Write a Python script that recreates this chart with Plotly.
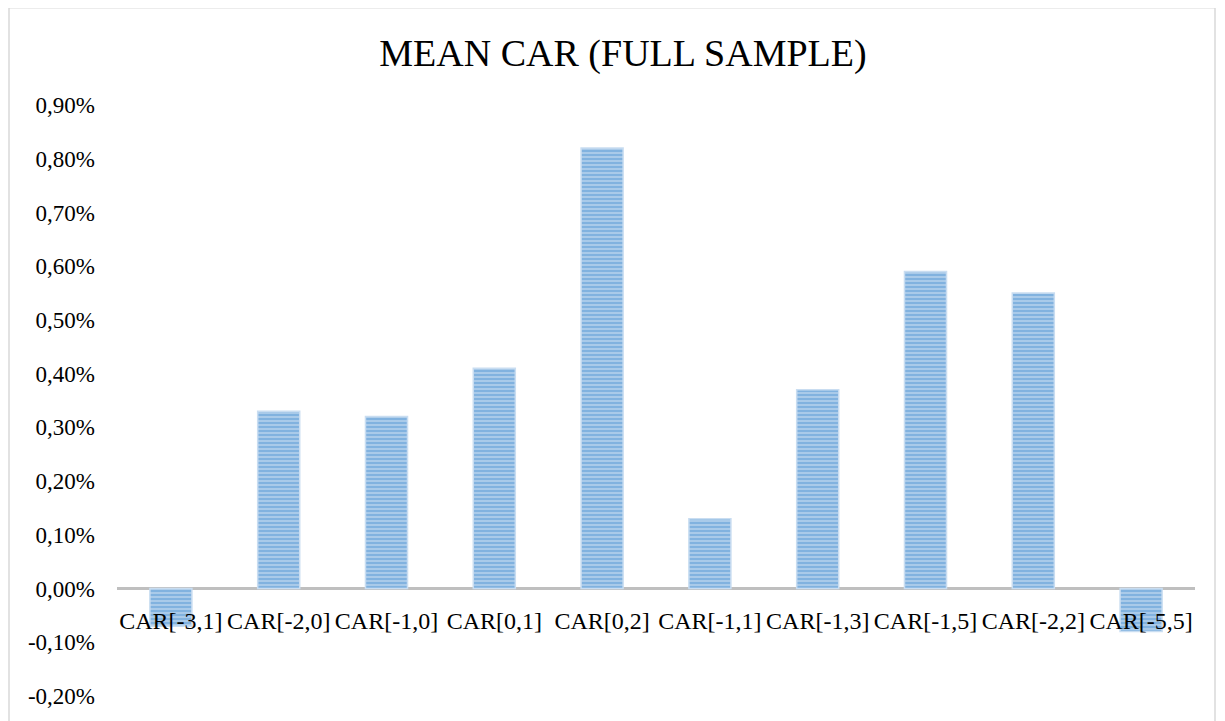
import plotly.graph_objects as go

categories = ["CAR[-3,1]", "CAR[-2,0]", "CAR[-1,0]", "CAR[0,1]", "CAR[0,2]",
              "CAR[-1,1]", "CAR[-1,3]", "CAR[-1,5]", "CAR[-2,2]", "CAR[-5,5]"]
mean_car = [-0.0007, 0.0033, 0.0032, 0.0041, 0.0082,
            0.0013, 0.0037, 0.0059, 0.0055, -0.0008]
y_ticks = [-0.002, -0.001, 0.0, 0.001, 0.002, 0.003, 0.004, 0.005, 0.006, 0.007, 0.008, 0.009]
y_tick_labels = ["-0,20%", "-0,10%", "0,00%", "0,10%", "0,20%", "0,30%",
                 "0,40%", "0,50%", "0,60%", "0,70%", "0,80%", "0,90%"]

# page body has an 8px margin, so the figure is offset by 8px
W, H = 1217, 713
L, R, T, B = 109, 30, 97, 21
ymin, ymax = -0.002, 0.009

fig = go.Figure()
fig.add_trace(go.Bar(
    x=categories, y=mean_car,
    marker=dict(
        color="#5b9bd5",
        line=dict(color="#c9ddf1", width=1.5),
        pattern=dict(shape="-", fgcolor="#4f93d2", bgcolor="#b3d0ec", size=4, solidity=0.6),
    ),
))

pw = W - L - R
ph = H - T - B
fig.add_shape(type="rect", xref="paper", yref="paper",
              x0=(1 - L) / pw, x1=(1207 - L) / pw,
              y0=-0.2, y1=(H - B + 1) / ph,
              line=dict(color="#d9d9d9", width=1.5), fillcolor="rgba(0,0,0,0)", layer="below")

fig.update_layout(
    width=W, height=H,
    margin=dict(l=L, r=R, t=T, b=B),
    paper_bgcolor="white", plot_bgcolor="white",
    bargap=0.61,
    showlegend=False,
    font=dict(family="Liberation Serif", color="#000000", size=23),
    title=dict(text="MEAN CAR (FULL SAMPLE)", x=(623 - 8) / W, xref="container", xanchor="center",
               y=1 - 45 / H, yanchor="middle",
               font=dict(family="Liberation Serif", size=38, color="#000000")),
    xaxis=dict(anchor="free", position=(0 - ymin) / (ymax - ymin),
               showline=False, showgrid=False, ticks="", ticklabelstandoff=15,
               tickfont=dict(size=24, family="Liberation Serif", color="#000000")),
    yaxis=dict(range=[ymin, ymax], tickvals=y_ticks, ticktext=y_tick_labels,
               showgrid=False, zeroline=True, zerolinecolor="#bfbfbf", zerolinewidth=3,
               ticks="", ticklabelstandoff=21, showline=False,
               tickfont=dict(size=23, family="Liberation Serif", color="#000000")),
)

fig.write_html("out.html")
